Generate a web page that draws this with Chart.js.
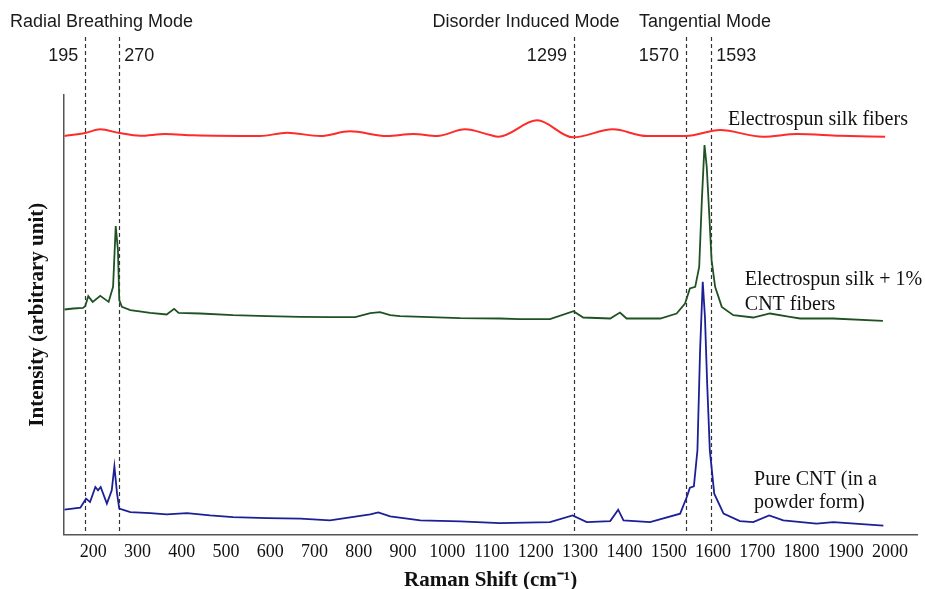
<!DOCTYPE html>
<html>
<head>
<meta charset="utf-8">
<script src="https://cdn.jsdelivr.net/npm/chart.js@4"></script>
<style>
    html, body { margin: 0; padding: 0; background: #fff; }
    #wrap { width: 925px; height: 589px; position: relative; }
</style>
</head>
<body>
<div id="wrap"><canvas id="chartRaman"></canvas></div>
<script>
// ── Datos (desplazamiento Raman en cm-1, intensidad arbitraria) ──
const xTicks = [200, 300, 400, 500, 600, 700, 800, 900, 1000, 1100, 1200, 1300, 1400, 1500, 1600, 1700, 1800, 1900, 2000];

// líneas punteadas de los modos (posición en el eje) y su rótulo
const modeLines  = [182, 259, 1286, 1539, 1596];
const modeLabels = ['195', '270', '1299', '1570', '1593'];

const silkShift = [135, 182, 216, 259, 306, 363, 426, 577, 638, 713, 780, 864, 923, 977, 1040, 1097, 1115, 1203, 1284, 1374, 1451, 1539, 1616, 1713, 1790, 1887, 1989];
const silkInt   = [398, 401, 404.7, 401, 398.3, 400, 398.7, 398, 401.3, 398, 402.7, 398, 400, 398, 404.7, 399, 397.3, 413.7, 396.7, 404.7, 398, 398, 404, 397.3, 400, 398.3, 397.3];

const cntSilkShift = [135, 155, 177, 182, 189, 199, 216, 235, 245, 251, 256, 259, 265, 284, 329, 366, 383, 393, 442, 516, 593, 668, 735, 792, 826, 848, 871, 893, 1029, 1119, 1164, 1232, 1285, 1307, 1368, 1390, 1405, 1481, 1518, 1537, 1548, 1560, 1569, 1575, 1581, 1586, 1592, 1597, 1605, 1620, 1646, 1691, 1729, 1774, 1797, 1871, 1984];
const cntSilkInt   = [224.7, 225.7, 226.3, 228, 238, 232.3, 238.3, 232.3, 247.3, 308, 284, 234, 227.3, 224, 221.3, 219.7, 225.3, 221.3, 220.7, 219, 218, 217.3, 217, 217, 221, 222, 219, 218, 216, 215.7, 215, 215, 223, 216.7, 215.7, 221.7, 215.7, 215.7, 220.7, 230.7, 245.7, 247.3, 267.3, 334, 389, 367.3, 317.3, 274, 247.3, 227.3, 219, 216.7, 220.7, 217.3, 215.7, 215.7, 213.3];

const cntShift = [135, 171, 184, 193, 205, 211, 217, 231, 242, 248, 254, 259, 284, 329, 366, 412, 464, 516, 593, 668, 735, 826, 844, 871, 939, 1029, 1119, 1232, 1283, 1315, 1368, 1386, 1398, 1458, 1526, 1541, 1548, 1557, 1565, 1571, 1577, 1582, 1587, 1593, 1603, 1624, 1661, 1691, 1727, 1759, 1834, 1872, 1985];
const cntInt   = [24.7, 26.7, 35.7, 32.3, 47.3, 44, 47.3, 30.7, 44, 68, 40.7, 25.7, 22.3, 21.3, 20, 21.3, 19, 17.3, 16.3, 15.7, 14, 20, 22, 18, 14, 13, 11.3, 12.3, 19, 12.3, 13.3, 24.7, 14, 12.3, 20.7, 37.3, 46.7, 48, 84, 184, 252.3, 217.3, 150.7, 84, 40.7, 20.7, 13.3, 12.3, 19, 14, 10.7, 12.3, 8.7];

const pares = (xs, ys) => xs.map((v, i) => ({ x: v, y: ys[i] }));
const SERIF = '"Liberation Serif", "Times New Roman", serif';
const SANS  = '"Liberation Sans", Arial, sans-serif';

// ── Plugin: líneas de modos y textos ──
const anotaciones = {
    id: 'anotaciones',
    beforeDatasetsDraw(chart) {
        const { ctx, scales: { x, y } } = chart;
        ctx.save();
        ctx.strokeStyle = '#333';
        ctx.lineWidth = 1.2;
        ctx.setLineDash([4, 3]);
        modeLines.forEach(v => {
            const px = Math.round(x.getPixelForValue(v)) + 0.5;
            ctx.beginPath();
            ctx.moveTo(px, 37);
            ctx.lineTo(px, y.bottom);
            ctx.stroke();
        });
        ctx.restore();
    },
    afterDatasetsDraw(chart) {
        const { ctx, scales: { x, y } } = chart;
        ctx.save();
        ctx.fillStyle = '#1a1a1a';
        ctx.textBaseline = 'alphabetic';

        // títulos de los modos
        ctx.font = '18px ' + SANS;
        ctx.textAlign = 'left';
        ctx.fillText('Radial Breathing Mode', 10, 27);
        ctx.textAlign = 'center';
        ctx.fillText('Disorder Induced Mode', 526, 27);
        ctx.fillText('Tangential Mode', 705, 27);

        // números junto a cada línea
        const lado = ['izq', 'der', 'izq', 'izq', 'der'];
        modeLines.forEach((v, i) => {
            const px = x.getPixelForValue(v);
            if (lado[i] === 'izq') { ctx.textAlign = 'right'; ctx.fillText(modeLabels[i], px - 7, 61); }
            else { ctx.textAlign = 'left'; ctx.fillText(modeLabels[i], px + 5, 61); }
        });

        // rótulos de las series
        ctx.font = '20px ' + SERIF;
        ctx.fillStyle = '#111';
        ctx.textAlign = 'left';
        const txt = (t, vx, vy) => ctx.fillText(t, x.getPixelForValue(vx), y.getPixelForValue(vy));
        txt('Electrospun silk fibers', 1634, 409);
        txt('Electrospun silk + 1%', 1672, 249);
        txt('CNT fibers', 1672, 224);
        txt('Pure CNT (in a', 1693, 49);
        txt('powder form)', 1693, 26);
        ctx.restore();
    }
};

window.addEventListener('DOMContentLoaded', () => {
    const ctx = document.getElementById('chartRaman').getContext('2d');
    new Chart(ctx, {
        type: 'line',
        data: {
            datasets: [
                { label: 'Electrospun silk fibers', data: pares(silkShift, silkInt), borderColor: '#ff2a2a', borderWidth: 2, pointRadius: 0, cubicInterpolationMode: 'monotone' },
                { label: 'Electrospun silk + 1% CNT fibers', data: pares(cntSilkShift, cntSilkInt), borderColor: '#1f5223', borderWidth: 1.8, pointRadius: 0, tension: 0 },
                { label: 'Pure CNT (in a powder form)', data: pares(cntShift, cntInt), borderColor: '#1c1f96', borderWidth: 1.8, pointRadius: 0, tension: 0 }
            ]
        },
        options: {
            responsive: true,
            maintainAspectRatio: false,
            animation: false,
            layout: { padding: { left: 20, top: 95, right: 8, bottom: 0 } },
            plugins: { legend: { display: false }, tooltip: { enabled: false } },
            scales: {
                x: {
                    type: 'linear',
                    min: 134.6,
                    max: 2061,
                    afterBuildTicks: ax => { ax.ticks = xTicks.map(v => ({ value: v })); },
                    grid: { display: false, drawTicks: false, tickLength: 0 },
                    border: { display: true, color: '#555', width: 1.5 },
                    ticks: { font: { family: SERIF, size: 18 }, color: '#111', padding: 7, maxRotation: 0, autoSkip: false, callback: v => String(v) },
                    title: { display: true, text: 'Raman Shift (cm⁻¹)', color: '#111', font: { family: SERIF, size: 21, weight: 'bold', lineHeight: 1 }, padding: { top: 0, bottom: -2 } }
                },
                y: {
                    min: 0,
                    max: 439,
                    grid: { display: false, drawTicks: false, tickLength: 0 },
                    border: { display: true, color: '#555', width: 1.5 },
                    ticks: { display: false },
                    title: { display: true, text: 'Intensity (arbitrary unit)', color: '#111', font: { family: SERIF, size: 21, weight: 'bold', lineHeight: 1.2 }, padding: { top: 5, bottom: 14 } }
                }
            }
        },
        plugins: [anotaciones]
    });
});
</script>
</body>
</html>
